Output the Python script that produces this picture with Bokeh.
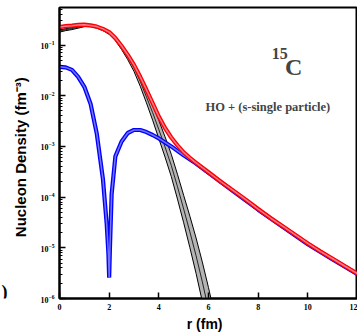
import numpy as np
from bokeh.plotting import figure
from bokeh.layouts import row
from bokeh.models import FixedTicker, Label, Range1d
from bokeh.core.properties import value
from bokeh.embed import file_html
from bokeh.resources import INLINE

# Harmonic-oscillator core density (fm^-3) with its uncertainty spread (decades)
r_ho = [0.0, 0.25, 0.5, 0.75, 1.0, 1.25, 1.5, 1.75, 2.0, 2.25, 2.5, 2.75, 3.0,
        3.25, 3.5, 3.75, 4.0, 4.25, 4.5, 4.75, 5.0, 5.25, 5.5, 5.75, 6.0, 6.25]
rho_ho = [0.188, 0.2014, 0.211, 0.2254, 0.241, 0.241, 0.2254, 0.2014, 0.172,
          0.131, 0.0893, 0.0582, 0.0354, 0.0192, 9.55e-3, 4.65e-3, 2.15e-3,
          9.77e-4, 4.23e-4, 1.61e-4, 5.82e-5, 2.06e-5, 6.97e-6, 2.15e-6,
          6.08e-7, 1.64e-7]
spread_ho = [0.02, 0.02, 0.02, 0.02, 0.02, 0.02, 0.02, 0.02, 0.024, 0.03, 0.04,
             0.055, 0.07, 0.095, 0.12, 0.15, 0.18, 0.20, 0.22, 0.245, 0.27,
             0.31, 0.35, 0.39, 0.43, 0.46]

# Total density: HO core + s-wave single-particle halo
r_tot = [0.0, 0.25, 0.5, 0.75, 1.0, 1.25, 1.5, 1.75, 2.0, 2.25, 2.5, 2.75, 3.0,
         3.25, 3.5, 3.75, 4.0, 4.25, 4.5, 4.75, 5.0, 5.25, 5.5, 6.0, 6.5, 7.0,
         7.5, 8.0, 8.5, 9.0, 9.5, 10.0, 10.5, 11.0, 11.5, 12.0]
rho_tot = [0.225, 0.236, 0.241, 0.249, 0.252, 0.244, 0.231, 0.208, 0.180,
           0.137, 0.0955, 0.0637, 0.0406, 0.0236, 0.0131, 7.13e-3, 3.87e-3,
           2.31e-3, 1.50e-3, 1.05e-3, 7.62e-4, 5.96e-4, 4.74e-4, 3.09e-4,
           2.01e-4, 1.34e-4, 8.93e-5, 5.82e-5, 3.87e-5, 2.64e-5, 1.80e-5,
           1.22e-5, 8.53e-6, 6.08e-6, 4.33e-6, 3.09e-6]

# 2s single-particle density (node at r = 2 fm)
r_s = [0.0, 0.25, 0.5, 0.75, 1.0, 1.25, 1.5, 1.75, 1.9, 1.97, 2.0, 2.03, 2.1,
       2.25, 2.5, 2.75, 3.0, 3.25, 3.5, 3.75, 4.0, 4.5, 5.0, 5.5, 6.0, 7.0,
       8.0, 9.0, 10.0, 11.0, 12.0]
rho_s = [0.0371, 0.0362, 0.0324, 0.0236, 0.0150, 6.97e-3, 1.80e-3, 2.25e-4,
         2.96e-5, 7.6e-6, 2.58e-6, 9.5e-6, 1.15e-4, 6.37e-4, 1.25e-3, 1.84e-3,
         2.11e-3, 2.11e-3, 1.92e-3, 1.68e-3, 1.44e-3, 1.0e-3, 6.67e-4, 4.6e-4,
         3.0e-4, 1.3e-4, 5.65e-5, 2.56e-5, 1.18e-5, 5.9e-6, 3.0e-6]

x_ticks = [0, 2, 4, 6, 8, 10, 12]
y_decades = [1e-6, 1e-5, 1e-4, 1e-3, 1e-2, 1e-1]
y_minor = [k * d for d in y_decades for k in range(2, 10)]

serif = "Liberation Serif"

# narrow strip at the left page edge holding the cut-off panel tag bracket
EDGE_W = 8
edge = figure(width=EDGE_W, height=334, x_range=Range1d(0, EDGE_W),
              y_range=Range1d(0, 334), output_backend="svg",
              toolbar_location=None, min_border=0)
edge.axis.visible = False
edge.grid.visible = False
edge.outline_line_color = None
edge.background_fill_color = "white"
edge.border_fill_color = "white"
edge.text(x=[7], y=[7], text=[")"], text_font=value(serif),
          text_font_style="bold", text_font_size="18px",
          text_align="right", text_baseline="alphabetic", text_color="black")

p = figure(width=357 - EDGE_W, height=334, x_range=Range1d(0, 12),
           y_range=Range1d(1e-6, 0.55), y_axis_type="log",
           output_backend="svg", toolbar_location=None,
           min_border_left=58 - EDGE_W, min_border_right=0,
           min_border_top=7, min_border_bottom=34)
p.background_fill_color = "white"
p.border_fill_color = "white"
p.outline_line_color = "black"
p.outline_line_width = 2
p.xgrid.grid_line_color = None
p.ygrid.grid_line_color = None

# HO band: grey fill between the spread edges, plus the central line
ho = np.array(rho_ho)
sp = 10 ** np.array(spread_ho)
p.varea(x=r_ho, y1=ho / sp, y2=ho * sp, fill_color="#b4b4b4")
p.line(r_ho, ho / sp, line_color="black", line_width=1)
p.line(r_ho, ho * sp, line_color="black", line_width=1)
p.line(r_ho, ho, line_color="black", line_width=0.8)

# s-wave band
p.line(r_s, rho_s, line_color="#0000ff", line_width=4.2)
p.line(r_s, rho_s, line_color="#7474ff", line_width=1.5)

# total band
p.line(r_tot, rho_tot, line_color="#ff0000", line_width=4.2)
p.line(r_tot, rho_tot, line_color="#ff7a8c", line_width=1.5)

for ax in (p.xaxis[0], p.yaxis[0]):
    ax.axis_line_width = 2
    ax.axis_line_color = "black"
    ax.major_tick_in = 6
    ax.major_tick_out = 0
    ax.minor_tick_in = 3
    ax.minor_tick_out = 0
    ax.major_tick_line_color = "black"
    ax.major_tick_line_width = 1.5
    ax.major_label_text_font = serif
    ax.major_label_text_font_style = "bold"
    ax.major_label_text_font_size = "8px"
    ax.major_label_text_color = "black"
    ax.axis_label_text_font = "Liberation Sans"
    ax.axis_label_text_font_style = "bold"
    ax.axis_label_text_color = "black"

p.xaxis.ticker = FixedTicker(ticks=x_ticks)
p.xaxis.minor_tick_line_color = None
p.xaxis.major_label_standoff = 5
p.xaxis.axis_label = "r   (fm)"
p.xaxis.axis_label_text_font_size = "14px"
p.xaxis.axis_label_standoff = 3

p.yaxis.ticker = FixedTicker(ticks=y_decades, minor_ticks=y_minor)
p.yaxis.minor_tick_line_color = "black"
p.yaxis.major_label_standoff = 5
p.yaxis.axis_label = "Nucleon Density   (fm\u207b\u00b3)"
p.yaxis.axis_label_text_font_size = "15px"
p.yaxis.axis_label_standoff = 9

p.add_layout(Label(x=9.08, y=0.037, text="C", text_font=serif,
                   text_font_style="bold", text_font_size="24px",
                   text_baseline="alphabetic", text_align="left"))
p.add_layout(Label(x=8.55, y=0.068, text="15", text_font=serif,
                   text_font_style="bold", text_font_size="16px",
                   text_baseline="alphabetic", text_align="left"))
p.add_layout(Label(x=8.39, y=5.9e-3, text="HO + (s-single particle)",
                   text_font=serif, text_font_style="bold",
                   text_font_size="12.5px", text_baseline="alphabetic",
                   text_align="center"))

layout = row(edge, p, spacing=0)
open("out.html", "w").write(file_html(layout, INLINE))
